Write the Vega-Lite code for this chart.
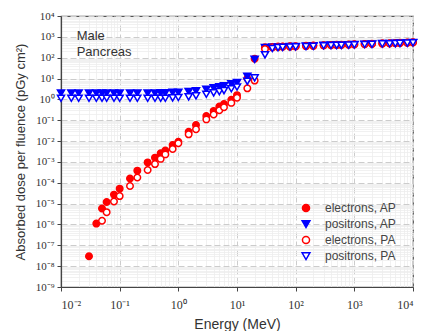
{
  "$schema": "https://vega.github.io/schema/vega-lite/v6.json",
  "width": 352,
  "height": 271,
  "autosize": {"type": "none"},
  "padding": {"left": 61, "top": 16, "right": 8, "bottom": 44},
  "background": "white",
  "config": {
    "view": {"stroke": "#555", "strokeWidth": 1.2},
    "font": "Liberation Sans",
    "legend": {
      "orient": "none", "legendX": 239, "legendY": 186, "title": null,
      "labelFontSize": 12, "labelColor": "#444", "labelFont": "Liberation Sans",
      "symbolSize": 50, "symbolStrokeWidth": 1.5, "rowPadding": 2, "labelOffset": 13
    }
  },
  "datasets": {
    "pts": [
      {"E":0.03,"D":3e-8,"s":"electrons, AP"},
      {"E":0.04,"D":1.1e-6,"s":"electrons, AP"},
      {"E":0.05,"D":5.8e-6,"s":"electrons, AP"},
      {"E":0.06,"D":1.2e-5,"s":"electrons, AP"},
      {"E":0.08,"D":2.7e-5,"s":"electrons, AP"},
      {"E":0.1,"D":5.2e-5,"s":"electrons, AP"},
      {"E":0.15,"D":1.6e-4,"s":"electrons, AP"},
      {"E":0.2,"D":3.8e-4,"s":"electrons, AP"},
      {"E":0.3,"D":9.5e-4,"s":"electrons, AP"},
      {"E":0.4,"D":1.6e-3,"s":"electrons, AP"},
      {"E":0.5,"D":2.6e-3,"s":"electrons, AP"},
      {"E":0.6,"D":3.5e-3,"s":"electrons, AP"},
      {"E":0.8,"D":6.5e-3,"s":"electrons, AP"},
      {"E":1,"D":9.3e-3,"s":"electrons, AP"},
      {"E":1.5,"D":2.8e-2,"s":"electrons, AP"},
      {"E":2,"D":5.9e-2,"s":"electrons, AP"},
      {"E":3,"D":0.16,"s":"electrons, AP"},
      {"E":4,"D":0.28,"s":"electrons, AP"},
      {"E":5,"D":0.45,"s":"electrons, AP"},
      {"E":6,"D":0.6,"s":"electrons, AP"},
      {"E":8,"D":0.95,"s":"electrons, AP"},
      {"E":10,"D":1.6,"s":"electrons, AP"},
      {"E":15,"D":10,"s":"electrons, AP"},
      {"E":20,"D":90,"s":"electrons, AP"},
      {"E":30,"D":320,"s":"electrons, AP"},
      {"E":40,"D":330,"s":"electrons, AP"},
      {"E":50,"D":340,"s":"electrons, AP"},
      {"E":60,"D":345,"s":"electrons, AP"},
      {"E":80,"D":350,"s":"electrons, AP"},
      {"E":100,"D":355,"s":"electrons, AP"},
      {"E":150,"D":370,"s":"electrons, AP"},
      {"E":200,"D":380,"s":"electrons, AP"},
      {"E":300,"D":400,"s":"electrons, AP"},
      {"E":400,"D":410,"s":"electrons, AP"},
      {"E":500,"D":415,"s":"electrons, AP"},
      {"E":600,"D":420,"s":"electrons, AP"},
      {"E":800,"D":430,"s":"electrons, AP"},
      {"E":1000,"D":440,"s":"electrons, AP"},
      {"E":1500,"D":455,"s":"electrons, AP"},
      {"E":2000,"D":465,"s":"electrons, AP"},
      {"E":3000,"D":485,"s":"electrons, AP"},
      {"E":4000,"D":495,"s":"electrons, AP"},
      {"E":5000,"D":505,"s":"electrons, AP"},
      {"E":6000,"D":515,"s":"electrons, AP"},
      {"E":8000,"D":530,"s":"electrons, AP"},
      {"E":10000,"D":550,"s":"electrons, AP"},

      {"E":0.01,"D":2.05,"s":"positrons, AP"},
      {"E":0.015,"D":2.05,"s":"positrons, AP"},
      {"E":0.02,"D":2.05,"s":"positrons, AP"},
      {"E":0.03,"D":2.05,"s":"positrons, AP"},
      {"E":0.04,"D":2.05,"s":"positrons, AP"},
      {"E":0.05,"D":2.05,"s":"positrons, AP"},
      {"E":0.06,"D":2.05,"s":"positrons, AP"},
      {"E":0.08,"D":2.05,"s":"positrons, AP"},
      {"E":0.1,"D":2.05,"s":"positrons, AP"},
      {"E":0.15,"D":2.05,"s":"positrons, AP"},
      {"E":0.2,"D":2.05,"s":"positrons, AP"},
      {"E":0.3,"D":2.05,"s":"positrons, AP"},
      {"E":0.4,"D":2.05,"s":"positrons, AP"},
      {"E":0.5,"D":2.1,"s":"positrons, AP"},
      {"E":0.6,"D":2.1,"s":"positrons, AP"},
      {"E":0.8,"D":2.2,"s":"positrons, AP"},
      {"E":1,"D":2.2,"s":"positrons, AP"},
      {"E":1.5,"D":2.4,"s":"positrons, AP"},
      {"E":2,"D":2.6,"s":"positrons, AP"},
      {"E":3,"D":3.1,"s":"positrons, AP"},
      {"E":4,"D":3.6,"s":"positrons, AP"},
      {"E":5,"D":4.1,"s":"positrons, AP"},
      {"E":6,"D":4.6,"s":"positrons, AP"},
      {"E":8,"D":5.6,"s":"positrons, AP"},
      {"E":10,"D":6.5,"s":"positrons, AP"},
      {"E":15,"D":13,"s":"positrons, AP"},
      {"E":20,"D":85,"s":"positrons, AP"},
      {"E":30,"D":310,"s":"positrons, AP"},
      {"E":40,"D":325,"s":"positrons, AP"},
      {"E":50,"D":335,"s":"positrons, AP"},
      {"E":60,"D":340,"s":"positrons, AP"},
      {"E":80,"D":345,"s":"positrons, AP"},
      {"E":100,"D":350,"s":"positrons, AP"},
      {"E":150,"D":365,"s":"positrons, AP"},
      {"E":200,"D":375,"s":"positrons, AP"},
      {"E":300,"D":395,"s":"positrons, AP"},
      {"E":400,"D":405,"s":"positrons, AP"},
      {"E":500,"D":410,"s":"positrons, AP"},
      {"E":600,"D":415,"s":"positrons, AP"},
      {"E":800,"D":425,"s":"positrons, AP"},
      {"E":1000,"D":435,"s":"positrons, AP"},
      {"E":1500,"D":450,"s":"positrons, AP"},
      {"E":2000,"D":460,"s":"positrons, AP"},
      {"E":3000,"D":480,"s":"positrons, AP"},
      {"E":4000,"D":490,"s":"positrons, AP"},
      {"E":5000,"D":500,"s":"positrons, AP"},
      {"E":6000,"D":510,"s":"positrons, AP"},
      {"E":8000,"D":525,"s":"positrons, AP"},
      {"E":10000,"D":545,"s":"positrons, AP"},

      {"E":0.05,"D":1.5e-6,"s":"electrons, PA"},
      {"E":0.06,"D":3.9e-6,"s":"electrons, PA"},
      {"E":0.08,"D":1.26e-5,"s":"electrons, PA"},
      {"E":0.1,"D":2.3e-5,"s":"electrons, PA"},
      {"E":0.15,"D":7e-5,"s":"electrons, PA"},
      {"E":0.2,"D":1.8e-4,"s":"electrons, PA"},
      {"E":0.3,"D":4.1e-4,"s":"electrons, PA"},
      {"E":0.4,"D":7.9e-4,"s":"electrons, PA"},
      {"E":0.5,"D":1.4e-3,"s":"electrons, PA"},
      {"E":0.6,"D":2.3e-3,"s":"electrons, PA"},
      {"E":0.8,"D":4.2e-3,"s":"electrons, PA"},
      {"E":1,"D":7.9e-3,"s":"electrons, PA"},
      {"E":1.5,"D":2.1e-2,"s":"electrons, PA"},
      {"E":2,"D":3.7e-2,"s":"electrons, PA"},
      {"E":3,"D":0.11,"s":"electrons, PA"},
      {"E":4,"D":0.19,"s":"electrons, PA"},
      {"E":5,"D":0.3,"s":"electrons, PA"},
      {"E":6,"D":0.42,"s":"electrons, PA"},
      {"E":8,"D":0.68,"s":"electrons, PA"},
      {"E":10,"D":1.2,"s":"electrons, PA"},
      {"E":15,"D":3.4,"s":"electrons, PA"},
      {"E":20,"D":8,"s":"electrons, PA"},
      {"E":30,"D":260,"s":"electrons, PA"},
      {"E":40,"D":315,"s":"electrons, PA"},
      {"E":50,"D":330,"s":"electrons, PA"},
      {"E":60,"D":335,"s":"electrons, PA"},
      {"E":80,"D":340,"s":"electrons, PA"},
      {"E":100,"D":345,"s":"electrons, PA"},
      {"E":150,"D":360,"s":"electrons, PA"},
      {"E":200,"D":370,"s":"electrons, PA"},
      {"E":300,"D":390,"s":"electrons, PA"},
      {"E":400,"D":400,"s":"electrons, PA"},
      {"E":500,"D":405,"s":"electrons, PA"},
      {"E":600,"D":410,"s":"electrons, PA"},
      {"E":800,"D":420,"s":"electrons, PA"},
      {"E":1000,"D":430,"s":"electrons, PA"},
      {"E":1500,"D":445,"s":"electrons, PA"},
      {"E":2000,"D":455,"s":"electrons, PA"},
      {"E":3000,"D":475,"s":"electrons, PA"},
      {"E":4000,"D":485,"s":"electrons, PA"},
      {"E":5000,"D":495,"s":"electrons, PA"},
      {"E":6000,"D":505,"s":"electrons, PA"},
      {"E":8000,"D":520,"s":"electrons, PA"},
      {"E":10000,"D":540,"s":"electrons, PA"},

      {"E":0.01,"D":1.15,"s":"positrons, PA"},
      {"E":0.015,"D":1.15,"s":"positrons, PA"},
      {"E":0.02,"D":1.15,"s":"positrons, PA"},
      {"E":0.03,"D":1.15,"s":"positrons, PA"},
      {"E":0.04,"D":1.15,"s":"positrons, PA"},
      {"E":0.05,"D":1.15,"s":"positrons, PA"},
      {"E":0.06,"D":1.15,"s":"positrons, PA"},
      {"E":0.08,"D":1.15,"s":"positrons, PA"},
      {"E":0.1,"D":1.15,"s":"positrons, PA"},
      {"E":0.15,"D":1.15,"s":"positrons, PA"},
      {"E":0.2,"D":1.15,"s":"positrons, PA"},
      {"E":0.3,"D":1.15,"s":"positrons, PA"},
      {"E":0.4,"D":1.15,"s":"positrons, PA"},
      {"E":0.5,"D":1.15,"s":"positrons, PA"},
      {"E":0.6,"D":1.15,"s":"positrons, PA"},
      {"E":0.8,"D":1.2,"s":"positrons, PA"},
      {"E":1,"D":1.25,"s":"positrons, PA"},
      {"E":1.5,"D":1.35,"s":"positrons, PA"},
      {"E":2,"D":1.5,"s":"positrons, PA"},
      {"E":3,"D":1.8,"s":"positrons, PA"},
      {"E":4,"D":2.1,"s":"positrons, PA"},
      {"E":5,"D":2.4,"s":"positrons, PA"},
      {"E":6,"D":2.7,"s":"positrons, PA"},
      {"E":8,"D":3.3,"s":"positrons, PA"},
      {"E":10,"D":4.0,"s":"positrons, PA"},
      {"E":15,"D":7.5,"s":"positrons, PA"},
      {"E":20,"D":11,"s":"positrons, PA"},
      {"E":30,"D":140,"s":"positrons, PA"},
      {"E":40,"D":280,"s":"positrons, PA"},
      {"E":50,"D":310,"s":"positrons, PA"},
      {"E":60,"D":320,"s":"positrons, PA"},
      {"E":80,"D":330,"s":"positrons, PA"},
      {"E":100,"D":335,"s":"positrons, PA"},
      {"E":150,"D":350,"s":"positrons, PA"},
      {"E":200,"D":360,"s":"positrons, PA"},
      {"E":300,"D":380,"s":"positrons, PA"},
      {"E":400,"D":390,"s":"positrons, PA"},
      {"E":500,"D":395,"s":"positrons, PA"},
      {"E":600,"D":400,"s":"positrons, PA"},
      {"E":800,"D":410,"s":"positrons, PA"},
      {"E":1000,"D":420,"s":"positrons, PA"},
      {"E":1500,"D":435,"s":"positrons, PA"},
      {"E":2000,"D":445,"s":"positrons, PA"},
      {"E":3000,"D":465,"s":"positrons, PA"},
      {"E":4000,"D":475,"s":"positrons, PA"},
      {"E":5000,"D":485,"s":"positrons, PA"},
      {"E":6000,"D":495,"s":"positrons, PA"},
      {"E":8000,"D":510,"s":"positrons, PA"},
      {"E":10000,"D":530,"s":"positrons, PA"}
    ]
  },
  "layer": [
    {
      "data": {"name": "pts"},
      "mark": {"type": "point", "opacity": 0},
      "encoding": {
        "x": {"field": "E", "type": "quantitative", "scale": {"type": "log", "domain": [0.01, 10000]},
          "axis": {"orient": "top", "values": [0.02,0.03,0.04,0.05,0.06,0.07,0.08,0.09,0.2,0.3,0.4,0.5,0.6,0.7,0.8,0.9,2,3,4,5,6,7,8,9,20,30,40,50,60,70,80,90,200,300,400,500,600,700,800,900,2000,3000,4000,5000,6000,7000,8000,9000],
            "labels": false, "ticks": false, "domain": false, "title": null, "grid": true, "gridColor": "#ededed", "gridWidth": 0.8}},
        "y": {"field": "D", "type": "quantitative", "scale": {"type": "log", "domain": [1e-9, 10000]},
          "axis": {"orient": "right", "values": [2e-9,3e-9,4e-9,5e-9,6e-9,7e-9,8e-9,9e-9,2e-8,3e-8,4e-8,5e-8,6e-8,7e-8,8e-8,9e-8,2e-7,3e-7,4e-7,5e-7,6e-7,7e-7,8e-7,9e-7,2e-6,3e-6,4e-6,5e-6,6e-6,7e-6,8e-6,9e-6,2e-5,3e-5,4e-5,5e-5,6e-5,7e-5,8e-5,9e-5,2e-4,3e-4,4e-4,5e-4,6e-4,7e-4,8e-4,9e-4,0.002,0.003,0.004,0.005,0.006,0.007,0.008,0.009,0.02,0.03,0.04,0.05,0.06,0.07,0.08,0.09,0.2,0.3,0.4,0.5,0.6,0.7,0.8,0.9,2,3,4,5,6,7,8,9,20,30,40,50,60,70,80,90,200,300,400,500,600,700,800,900,2000,3000,4000,5000,6000,7000,8000,9000],
            "labels": false, "ticks": false, "domain": false, "title": null, "grid": true, "gridColor": "#ededed", "gridWidth": 0.8}}
      }
    },
    {
      "data": {"name": "pts"},
      "mark": {"type": "point", "filled": true, "size": 42, "strokeWidth": 1.5, "opacity": 1},
      "encoding": {
        "x": {"field": "E", "type": "quantitative", "scale": {"type": "log", "domain": [0.01, 10000]},
          "axis": {"orient": "bottom", "values": [0.01,0.1,1,10,100,1000,10000],
            "labelExpr": "'10' + (round(log(datum.value)/LN10) < 0 ? '⁻' : '') + ['⁰','¹','²','³','⁴','⁵','⁶','⁷','⁸','⁹'][abs(round(log(datum.value)/LN10))]",
            "labelFont": "Liberation Serif", "labelFontSize": 12, "labelColor": "#333", "labelPadding": 8,
            "tickColor": "#444", "tickSize": 4, "domainColor": "#444", "domainWidth": 1.2,
            "grid": true, "gridColor": "#cccccc", "gridDash": [6, 3], "gridWidth": 1,
            "title": "Energy (MeV)", "titleFont": "Liberation Sans", "titleFontSize": 14, "titleFontWeight": "normal", "titleColor": "#333", "titlePadding": 7}},
        "y": {"field": "D", "type": "quantitative", "scale": {"type": "log", "domain": [1e-9, 10000]},
          "axis": {"orient": "left", "values": [1e-9,1e-8,1e-7,1e-6,1e-5,1e-4,1e-3,0.01,0.1,1,10,100,1000,10000],
            "labelExpr": "'10' + (round(log(datum.value)/LN10) < 0 ? '⁻' : '') + ['⁰','¹','²','³','⁴','⁵','⁶','⁷','⁸','⁹'][abs(round(log(datum.value)/LN10))]",
            "labelFont": "Liberation Serif", "labelFontSize": 11, "labelColor": "#333", "labelPadding": 3,
            "tickColor": "#444", "tickSize": 4, "domainColor": "#444", "domainWidth": 1.2,
            "grid": true, "gridColor": "#cccccc", "gridDash": [6, 3], "gridWidth": 1,
            "title": "Absorbed dose per fluence (pGy cm²)", "titleFont": "Liberation Sans", "titleFontSize": 13, "titleFontWeight": "normal", "titleColor": "#333", "titlePadding": 8}},
        "fill": {"field": "s", "type": "nominal",
          "scale": {"domain": ["electrons, AP", "positrons, AP", "electrons, PA", "positrons, PA"], "range": ["#ff0000", "#0000ff", "#ffffff", "#ffffff"]}},
        "stroke": {"field": "s", "type": "nominal",
          "scale": {"domain": ["electrons, AP", "positrons, AP", "electrons, PA", "positrons, PA"], "range": ["#ff0000", "#0000ff", "#ff0000", "#0000ff"]}},
        "shape": {"field": "s", "type": "nominal",
          "scale": {"domain": ["electrons, AP", "positrons, AP", "electrons, PA", "positrons, PA"], "range": ["circle", "M-1.1,-0.9L1.1,-0.9L0,1Z", "circle", "M-1.1,-0.9L1.1,-0.9L0,1Z"]}},
        "order": {"value": 0}
      }
    },
    {
      "data": {"values": [{}]},
      "mark": {"type": "text", "align": "left", "baseline": "top", "fontSize": 13, "font": "Liberation Sans", "color": "#333", "lineHeight": 16},
      "encoding": {
        "x": {"datum": 0.0185, "type": "quantitative", "axis": null},
        "y": {"datum": 2200, "type": "quantitative", "axis": null},
        "text": {"value": ["Male", "Pancreas"]}
      }
    }
  ],
  "resolve": {"axis": {"x": "independent", "y": "independent"}}
}
